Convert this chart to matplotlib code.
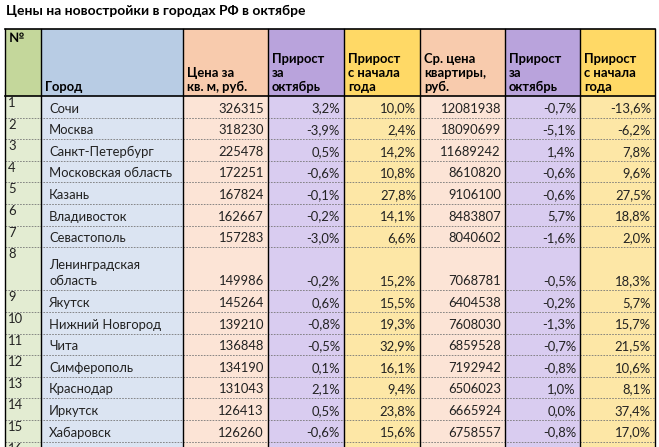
import matplotlib
matplotlib.use("Agg")
import matplotlib.pyplot as plt
from matplotlib.patches import Rectangle

title = "Цены на новостройки в городах РФ в октябре"
headers = ["№", "Город", "Цена за\nкв. м, руб.", "Прирост\nза\nоктябрь", "Прирост\nс начала\nгода",
           "Ср. цена\nквартиры,\nруб.", "Прирост\nза\nоктябрь", "Прирост\nс начала\nгода"]
nums = list(range(1, 17))
cities = ["Сочи", "Москва", "Санкт-Петербург", "Московская область", "Казань", "Владивосток",
          "Севастополь", "Ленинградская\nобласть", "Якутск", "Нижний Новгород", "Чита",
          "Симферополь", "Краснодар", "Иркутск", "Хабаровск", "Калининград"]
price_m2 = [326315, 318230, 225478, 172251, 167824, 162667, 157283, 149986, 145264, 139210,
            136848, 134190, 131043, 126413, 126260, 124512]
m2_oct = ["3,2%", "-3,9%", "0,5%", "-0,6%", "-0,1%", "-0,2%", "-3,0%", "-0,2%", "0,6%", "-0,8%",
          "-0,5%", "0,1%", "2,1%", "0,5%", "-0,6%", "-2,1%"]
m2_year = ["10,0%", "2,4%", "14,2%", "10,8%", "27,8%", "14,1%", "6,6%", "15,2%", "15,5%", "19,3%",
           "32,9%", "16,1%", "9,4%", "23,8%", "15,6%", "19,9%"]
flat_price = [12081938, 18090699, 11689242, 8610820, 9106100, 8483807, 8040602, 7068781, 6404538,
              7608030, 6859528, 7192942, 6506023, 6665924, 6758557, 7689725]
flat_oct = ["-0,7%", "-5,1%", "1,4%", "-0,6%", "-0,6%", "5,7%", "-1,6%", "-0,5%", "-0,2%", "-1,3%",
            "-0,7%", "-0,8%", "1,0%", "0,0%", "-0,8%", "0,2%"]
flat_year = ["-13,6%", "-6,2%", "7,8%", "9,6%", "27,5%", "18,8%", "2,0%", "18,3%", "5,7%", "15,7%",
             "21,5%", "10,6%", "8,1%", "37,4%", "17,0%", "17,3%"]

# layout in pixels
col_x = [5, 41, 183, 268, 344, 420, 505, 580, 655]
head_top, head_bot = 29, 96
row_h = 21.6
head_col = ["#c4d79b", "#b8cce4", "#f8cbad", "#b9a3dc", "#ffd966", "#f8cbad", "#b9a3dc", "#ffd966"]
body_col = ["#e3ecd2", "#dbe4f2", "#fce4d6", "#d9ccf0", "#fde7a6", "#fce4d6", "#d9ccf0", "#fde7a6"]

font = "Lato"
fs = 9.4
fig = plt.figure(figsize=(6.59, 4.47), dpi=100)
ax = fig.add_axes([0, 0, 1, 1])
ax.set_xlim(0, 659)
ax.set_ylim(447, 0)
ax.axis("off")

ax.text(6, 11, title, fontsize=10, fontweight="bold", family=font, va="center", ha="left")

for c in range(8):
    x0, x1 = col_x[c], col_x[c + 1]
    ax.add_patch(Rectangle((x0, head_top), x1 - x0, head_bot - head_top, fc=head_col[c], ec="none"))
    if c == 0:
        ax.text(x0 + 4, head_top + 3, headers[c], fontsize=fs, fontweight="bold", family=font, va="top")
    else:
        ax.text(x0 + 4, head_bot - 3, headers[c], fontsize=fs, fontweight="bold", family=font,
                va="bottom", linespacing=1.2)

y = head_bot
for i in range(len(nums)):
    h = row_h * (2 if "\n" in cities[i] else 1)
    vals = [str(nums[i]), cities[i], str(price_m2[i]), m2_oct[i], m2_year[i],
            str(flat_price[i]), flat_oct[i], flat_year[i]]
    for c in range(8):
        x0, x1 = col_x[c], col_x[c + 1]
        ax.add_patch(Rectangle((x0, y), x1 - x0, h, fc=body_col[c], ec="none"))
        if c == 0:
            ax.text(x0 + 3, y + 1, vals[c], fontsize=fs, family=font, va="top", color="#222222")
        elif c == 1:
            ax.text(x0 + 8, y + h - 3, vals[c], fontsize=fs, family=font, va="bottom",
                    linespacing=1.45, color="#222222")
        else:
            ax.text(x1 - 4, y + h - 3, vals[c], fontsize=fs, family=font, va="bottom",
                    ha="right", color="#222222")
    y += h
    ax.plot([col_x[0], col_x[-1]], [y, y], color="#777777", lw=0.6, ls=(0, (2, 1.5)))

ax.plot([col_x[0], col_x[-1]], [head_top, head_top], color="black", lw=1.2)
ax.plot([col_x[0], col_x[-1]], [head_bot, head_bot], color="black", lw=1.2)
for x in col_x:
    ax.plot([x, x], [head_top, 447], color="black", lw=1.0)

fig.savefig("out.png", dpi=100)
